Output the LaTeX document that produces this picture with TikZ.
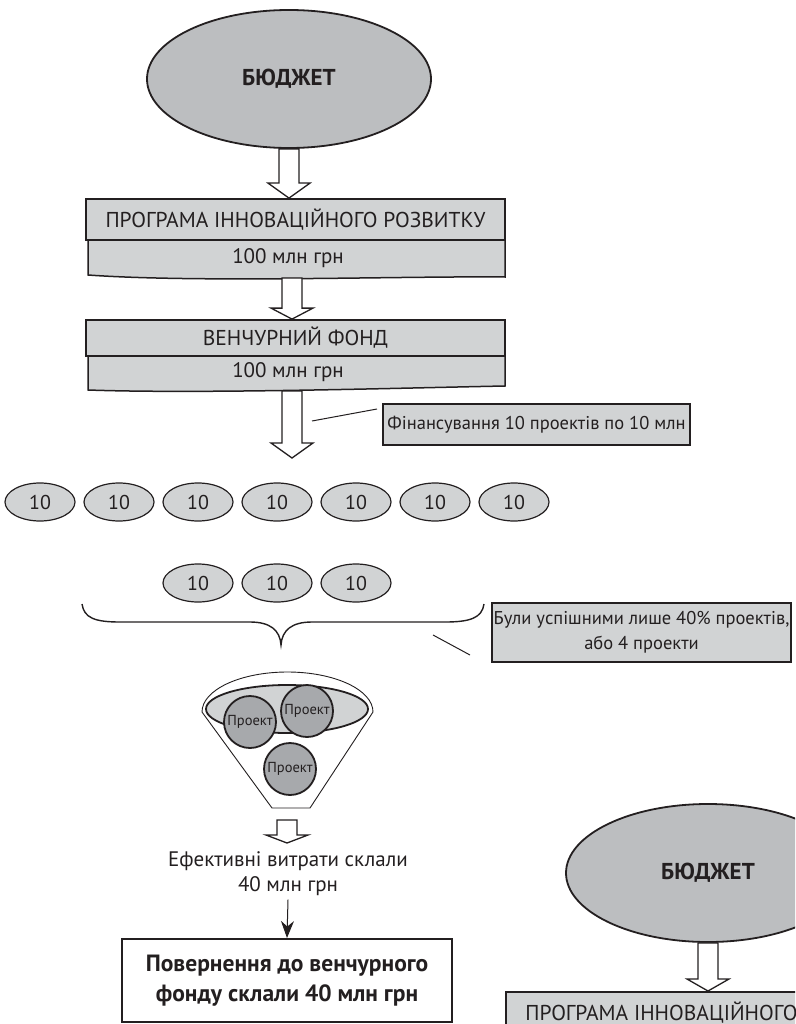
\documentclass[tikz,border=0pt]{standalone}
\usepackage{fontspec}
\setmainfont{PT Sans}
\usetikzlibrary{shapes.geometric,arrows.meta,calc}
\definecolor{boxgray}{HTML}{D1D3D4}
\definecolor{budgetgray}{HTML}{BCBEC0}
\definecolor{projgray}{HTML}{A7A9AC}
\definecolor{ink}{HTML}{231F20}
\newcommand{\hollowarrow}[3]{%
  \draw[line width=1.3pt,draw=ink,fill=white] let \p1=(#1), \p2=(#2) in
    (\x1-10pt,\y1) -- (\x1+10pt,\y1) -- (\x1+10pt,\y2+#3pt) -- (\x1+21pt,\y2+#3pt)
    -- (\x1,\y2) -- (\x1-21pt,\y2+#3pt) -- (\x1-10pt,\y2+#3pt) -- cycle;}

\begin{document}
\begin{tikzpicture}[x=1pt,y=-1pt,
  every node/.style={text=ink,font=\fontsize{21}{25}\selectfont},
  budget/.style={ellipse,draw=ink,line width=1.8pt,fill=budgetgray,minimum width=284pt,minimum height=138pt,font=\fontsize{23}{25}\selectfont\bfseries},
  titlebox/.style={draw=ink,line width=1.8pt,fill=boxgray,minimum width=419pt,minimum height=41pt,inner sep=0pt,font=\fontsize{21.5}{25}\selectfont},
  sumrow/.style={draw=ink,line width=1.5pt,fill=boxgray},
  note/.style={draw=ink,line width=1.8pt,fill=boxgray,inner sep=0pt,align=center,font=\fontsize{18.5}{25}\selectfont},
  share/.style={ellipse,draw=ink,line width=1.2pt,fill=boxgray,minimum width=70pt,minimum height=38pt,inner sep=0pt,font=\fontsize{20}{21}\selectfont},
  proj/.style={circle,draw=ink,line width=1.8pt,fill=projgray,minimum size=52pt,inner sep=0pt,font=\fontsize{14.5}{15}\selectfont}]
\useasboundingbox (0,0) rectangle (795,1024);
\clip (0,0) rectangle (795,1024);

\node[budget] (budget) at (289,79) {БЮДЖЕТ};
\draw[sumrow] (88,240) -- (505,240) -- (505,277) .. controls (400,276) and (200,283) .. (88,275) -- cycle;
\node[titlebox] (prog) at (295.5,219.5) {ПРОГРАМА ІННОВАЦІЙНОГО РОЗВИТКУ};
\node (progsum) at (288,258) {100 млн грн};
\hollowarrow{budget.south}{prog.north}{15}

\draw[sumrow] (88,355) -- (505,355) -- (505,386) .. controls (400,388) and (200,394) .. (88,390) -- cycle;
\node[titlebox,minimum height=36pt] (fund) at (295.5,338) {ВЕНЧУРНИЙ ФОНД};
\node (fundsum) at (288,372) {100 млн грн};
\coordinate (progbase) at (292,278);
\hollowarrow{progbase}{fund.north}{11}

\coordinate (fundbase) at (292,391);
\coordinate (split) at (292,458);
\hollowarrow{fundbase}{split}{15}
\node[note,minimum width=307pt,minimum height=41pt] (note1) at (536.5,424.5) {Фінансування 10 проектів по 10 млн};
\coordinate (l1a) at (312,421);
\coordinate (l1b) at (377,409);
\draw[line width=1pt,ink] (l1a) -- (l1b);

\foreach \i in {1,...,7}
  \node[share] (p\i) at ({40+79*(\i-1)},502) {10};
\foreach \i/\x in {1/198,2/277,3/356}
  \node[share] (q\i) at (\x,583) {10};

\draw[line width=1.4pt,ink] (82,604) .. controls (84,618) and (95,622) .. (120,622) -- (250,622)
  .. controls (270,622) and (280,630) .. (281,645) .. controls (282,630) and (292,622) .. (312,622)
  -- (445,622) .. controls (470,622) and (482,618) .. (484,604);
\node[note,minimum width=299pt,minimum height=59pt] (note2) at (641.5,632.5) {Були успішними лише 40\% проектів,\\або 4 проекти};
\coordinate (l2a) at (433,635);
\coordinate (l2b) at (470,655);
\draw[line width=1pt,ink] (l2a) -- (l2b);

\draw[line width=0.9pt,draw=ink,fill=white] (202,712) arc[start angle=180,end angle=360,x radius=85.5,y radius=40]
  -- (310,808) -- (272,808) -- cycle;
\draw[line width=1.8pt,draw=ink,fill=boxgray] (287,709) ellipse [x radius=81,y radius=24];
\node[proj] (pr1) at (250,722) {Проект};
\node[proj] (pr2) at (307,711) {Проект};
\node[proj] (pr3) at (290,769) {Проект};

\coordinate (funnelout) at (287,820);
\coordinate (effin) at (287,843);
\hollowarrow{funnelout}{effin}{8}
\node[align=center] (eff) at (288,874) {Ефективні витрати склали\\40 млн грн};
\node[draw=ink,line width=2pt,minimum width=330pt,minimum height=83pt,align=center,
  font=\fontsize{23.5}{30}\selectfont\bfseries] (ret) at (287,980.5) {Повернення до венчурного\\фонду склали 40 млн грн};
\draw[line width=1pt,ink,-{Stealth[length=17pt,width=13pt]}] (eff.south) -- (ret.north);

\node[budget] (budgetb) at (708,873) {БЮДЖЕТ};
\node[titlebox,anchor=north west] (progb) at (505,991) {ПРОГРАМА ІННОВАЦІЙНОГО РОЗВИТКУ};
\hollowarrow{budgetb.south}{progb.north}{12}
\end{tikzpicture}
\end{document}
